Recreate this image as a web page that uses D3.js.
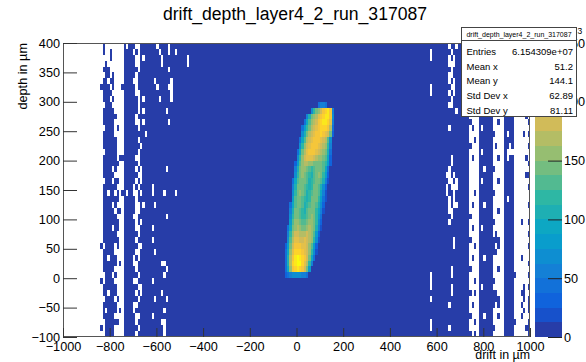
<!DOCTYPE html>
<html>
<head>
<meta charset="utf-8">
<script src="https://cdn.jsdelivr.net/npm/d3@7"></script>
<style>
  html, body { margin: 0; padding: 0; background: #ffffff; }
  svg { display: block; font-family: "Liberation Sans", Arial, Helvetica, sans-serif; }
</style>
</head>
<body>
<svg id="chart" width="586" height="362"></svg>
<script>
// ---------------- histogram description ----------------
const histTitle = "drift_depth_layer4_2_run_317087";
const xTitle = "drift in µm";
const yTitle = "depth in µm";

const xRange = [-1000, 1000];   // drift, µm
const yRange = [-100, 400];     // depth, µm
const zRange = [0, 250];        // bin content, in units of 10^3
const binSize = 10;             // µm, both directions
const nLevels = 20;             // colour contours

const xTickValues = [-1000, -800, -600, -400, -200, 0, 200, 400, 600, 800, 1000];
const yTickValues = [-100, -50, 0, 50, 100, 150, 200, 250, 300, 350, 400];
const zTickValues = [0, 50, 100, 150, 200, 250];

const statNames  = ["Entries", "Mean x", "Mean y", "Std Dev x", "Std Dev y"];
const statValues = ["6.154309e+07", "51.2", "144.1", "62.89", "81.11"];

// Occupied bins ('#') vs empty bins ('.') in the outer drift regions,
// one string per 10 µm depth row, from depth 400 down to -100.
const leftBandX0 = -840;
const leftBandRows = [
  ".#........ #.###..### ####.####. ##########",
  ".#..#..... ####.#.### #####.###. ##.#######",
  "....#..... #####..#.# ######.### #######.##",
  "..#....... #####..### ######.### #######.##",
  ".###...... ######.### #########. ##########",
  "..##.#.... #####.#### ########## ##########",
  ".##.##.... ####..#### ###.###### .#########",
  "####.#...# #####.#### ####.####. .#########",
  ".####..... #####..### ########## .#########",
  ".###.#.... ######.#.# #####.#### .#########",
  "..###..... ######.### ########## ##########",
  ".#####.... ######.#.# ########.# ##########",
  ".######... #####.#### ########## ##########",
  ".#####.... #####..#.# #########. ##########",
  "..####.#.. ######.### ########## ##########",
  ".#####.... #########. ########## ##########",
  ".######... ######.### ########## ##########",
  ".######... #######.## ########## ##########",
  "..#####... ######.### ########## ##########",
  ".######.## #####..### ########## ##########",
  ".#######.. ######.### ########## ##########",
  ".####.#... #####.#.## ########.# ##########",
  ".#####.... ######..## ########## ##########",
  "..###.##.. #####.#.## ########## ##########",
  ".######... ####.#.### ##.####### ##########",
  ".##.##.#.# #.##..#.## ##.####.## ##.#######",
  ".#######.. #####.#### ########## ##########",
  ".####.#... #####..#.# ###.###### ##########",
  ".#####.##. #####..### ########## ##########",
  ".######... ####..#### ########.# ##########",
  ".#######.. #####.#.## ########## ##########",
  ".####.##.. #####..### ##.####### ##########",
  ".######... ######.### ########## ##########",
  ".#######.. #####.#### ##.####### ##########",
  "#.####.#.. ######..## ########## ##########",
  ".#####.... #####..### ###.###### ##########",
  ".##.###... ####.#.### ########## ##########",
  ".######.#. ####..#### ######..## ##########",
  ".#####.... #####.#### ########.# ##########",
  "..###.#... ######.### #######.## ##########",
  "#.####.... ####..#### ##.####### ##########",
  ".######... ######..## ########## ##########",
  ".##.###... #####.#.## ######.### ##########",
  "..####.#.. ######.### ###.####.# ##########",
  ".######... ####..#### ########## ##########",
  ".#.####.#. ####.##### #######.## ##########",
  ".#####.... #####..### ##.####### ##########",
  "..######.. #####.#### ######..## ##########",
  "#.####.... ######.### #######.## ##########",
  "..####.... #####.#### #######.## ##########"
];

// every bin between the two outer regions is occupied
const coreSpan = [-440, 540];

const rightBandX0 = 540;
const rightBandRows = [
  "########## #.##.##### #..####### #.#..####. ....#.",
  "###.###### ##.####### ...####### #....####. ...##.",
  "###.###### #.#.###### ..#.##.### #...#####. ......",
  "########## #...###### .#..###### ..#..####. .....#",
  "########## ##.####### ....###### .....####. ..#..#",
  "########## #..####### #...###### #....###.. ......",
  "########## #.#.###### ....#.#### .#...####. .....#",
  "###.###### ##..###### .#..###### .....####. ......",
  "###.###### #.#.###### ..#.###### #....####. ...#.#",
  "########## ##.####### ....##.### ..#..####. ......",
  "########## #..####### #...###### .....####. .....#",
  "########## ####.##### .#..###### #....#.##. ......",
  "########## ########## ....###### .....####. ....#.",
  "########## ########## #...###### ..#..####. .....#",
  "########## #.######## .#..#.#### .....####. ......",
  "########## ########## ....###### #....#.##. ...#.#",
  "########## ########## ..#.###### .....####. ......",
  "########## ########## #...###### .#...##.#. .....#",
  "########## ########## ....#.#### .....#.... ......",
  "########## ##.####### .#..###### ..#..#.##. ....#.",
  "########## ##.####### ....###### .....####. .....#",
  "########## #.######## ....##.### #....####. ......",
  "########## ..#.###### ....###### .....####. ....##",
  "########## #..#.##### ....#.#### ..#..####. ......",
  "########## .#...##### ....###### .....####. .....#",
  "########## .##.###### ..#.###### #....####. ......",
  "########## #.#.###### ....###### .....#.##. ......",
  "########## #.#..##### .#..##.### .....####. .....#",
  "########## #..####### ....###### ..#..####. ......",
  "########## ##.####### #...###### .....####. ......",
  "########## #.######## ....###### #....####. ..#..#",
  "########## ########## .#..#.#### .....####. ......",
  "########## ########## ....###### .#...####. .....#",
  "########## ###.###### #...###### ###..####. ......",
  "########## ###.###### ..#.###### #.#..####. .....#",
  "########## ########## ....###### ##...####. ......",
  "########## ########## .#..##.### .....####. ..#...",
  "########## ########## ....###### .....####. .....#",
  "########## ##.####### #...###### ..#..####. ......",
  "###.###### ##.####### ....###### .....##### .....#",
  "###.###### ########## ..#.###### #....####. ......",
  "###.###### ##.####### ....#.#### .....####. ...#.#",
  "########## ##.####### #.#.###### ##...####. ..##..",
  "###.###### ########## ....###### ###..####. ...#.#",
  "########## #.######## .#..###### #.#..####. ..#..#",
  "########## ########## ....###### .....####. ...#.#",
  "########## ########## #...##.### ..#..####. ..#...",
  "###.###### ########## ..#.###### .....##### .....#",
  "###.###### #.######## ....###### #....####. ....##",
  "########## ########## #.#.###### .....####. .....#"
];

// Central high-occupancy region: contour level per bin (0-9, a-j = 10-19),
// '.' = no change. Rows from depth 300 down to 0, columns from drift -50.
const blobX0 = -50;
const blobTop = 300;
const blobRows = [
  "..............3443...",
  "...........59bceghig4",
  ".........48bcdfghiig5",
  "........37acdeghiihf4",
  ".......369bdefghhhgd3",
  ".......58bdefgghgfeb2",
  "......37adefgggfeda5.",
  "......59cefgggfedc94.",
  ".....37bdfgggfedcb83.",
  ".....59cefffedccba72.",
  "....26acddccbbbba962.",
  "....48bccba9abbba73..",
  "....59bcba98abcb962..",
  "...37abbba89abba841..",
  "...48bbba989bba852...",
  "...59bcba89abba741...",
  "...6abba989bbb9631...",
  "..37abba89abba852....",
  "..48bba98abbb9741....",
  "..59bba99abcb963.....",
  "..6accbaabccb952.....",
  ".37bcdcbbcdcb841.....",
  ".49ceedddedca62......",
  ".5adffeefedc951......",
  "26begggffeca62.......",
  "37cfhhhgfec951.......",
  "38dgijihgeb73........",
  "38dhijjhfd94.........",
  "37cghihgeb6..........",
  "2345555443..........."
];

// ROOT "bird" palette stops
const birdStops = [0.0000, 0.1250, 0.2500, 0.3750, 0.5000, 0.6250, 0.7500, 0.8750, 1.0000];
const birdRed   = [0.2082, 0.0592, 0.0780, 0.0232, 0.1802, 0.5301, 0.8186, 0.9956, 0.9764];
const birdGreen = [0.1664, 0.3599, 0.5041, 0.6419, 0.7178, 0.7492, 0.7328, 0.7862, 0.9832];
const birdBlue  = [0.5293, 0.8684, 0.8385, 0.7914, 0.6425, 0.4662, 0.3499, 0.1968, 0.0539];

// ---------------- build bins ----------------
const levelWidth = (zRange[1] - zRange[0]) / nLevels;
const contentOfLevel = lv => zRange[0] + (lv + 0.5) * levelWidth;
const nRows = (yRange[1] - yRange[0]) / binSize;

const bins = new Map();
const key = (x, y) => x + "," + y;
function setBin(x, y, z) { bins.set(key(x, y), { x, y, z }); }

for (let r = 0; r < nRows; r++) {
  const yLow = yRange[1] - (r + 1) * binSize;
  const left = leftBandRows[r].replace(/ /g, "");
  for (let i = 0; i < left.length; i++) {
    if (left[i] === "#") setBin(leftBandX0 + i * binSize, yLow, contentOfLevel(0));
  }
  for (let x = coreSpan[0]; x < coreSpan[1]; x += binSize) setBin(x, yLow, contentOfLevel(0));
  const right = rightBandRows[r].replace(/ /g, "");
  for (let i = 0; i < right.length; i++) {
    if (right[i] === "#") setBin(rightBandX0 + i * binSize, yLow, contentOfLevel(0));
  }
}
blobRows.forEach((row, r) => {
  const yLow = blobTop - (r + 1) * binSize;
  for (let i = 0; i < row.length; i++) {
    if (row[i] !== ".") setBin(blobX0 + i * binSize, yLow, contentOfLevel(parseInt(row[i], 20)));
  }
});
const binList = Array.from(bins.values());

// ---------------- scales ----------------
const W = 586, H = 362;
const frame = { left: 63, right: 530, top: 43, bottom: 337 };
const bar = { left: 535, right: 562 };

const x = d3.scaleLinear().domain(xRange).range([frame.left, frame.right]);
const y = d3.scaleLinear().domain(yRange).range([frame.bottom, frame.top]);
const zAxisScale = d3.scaleLinear().domain(zRange).range([frame.bottom, frame.top]);

const bird = d3.scaleLinear()
  .domain(birdStops)
  .range(birdStops.map((s, i) => d3.rgb(birdRed[i] * 255, birdGreen[i] * 255, birdBlue[i] * 255)))
  .interpolate(d3.interpolateRgb);
const nColors = 255;
const levelColors = d3.range(nLevels).map(i => {
  const idx = Math.floor((i + 0.99) * nColors / nLevels);
  return bird(Math.min(idx, nColors - 1) / (nColors - 1));
});
const color = d3.scaleQuantize().domain(zRange).range(levelColors);

// ---------------- drawing ----------------
const svg = d3.select("#chart");
svg.append("rect").attr("width", W).attr("height", H).attr("fill", "#ffffff");

// bins
svg.append("g").attr("shape-rendering", "crispEdges")
  .selectAll("rect").data(binList).join("rect")
  .attr("x", d => x(d.x))
  .attr("y", d => y(d.y + binSize))
  .attr("width", d => x(d.x + binSize) - x(d.x))
  .attr("height", d => y(d.y) - y(d.y + binSize))
  .attr("fill", d => color(d.z));

// frame
svg.append("rect")
  .attr("x", frame.left + 0.5).attr("y", frame.top + 0.5)
  .attr("width", frame.right - frame.left - 1).attr("height", frame.bottom - frame.top - 1)
  .attr("fill", "none").attr("stroke", "#555").attr("stroke-width", 1);

const labelFont = 12.7;
const fmt = d3.format("");

// x axis (ticks pointing into the frame)
const xMinor = d3.range(xRange[0], xRange[1] + 1, 40).filter(v => !xTickValues.includes(v));
const gx = svg.append("g").attr("transform", `translate(0,${frame.bottom})`);
gx.call(d3.axisBottom(x).tickValues(xMinor).tickSize(-4.5).tickFormat(""));
gx.call(d3.axisBottom(x).tickValues(xTickValues).tickSize(-9).tickPadding(4.5).tickFormat(fmt));
gx.select(".domain").remove();
gx.selectAll("line").attr("stroke", "#333");
gx.selectAll("text").attr("font-size", labelFont).attr("fill", "#000")
  .attr("font-family", "Liberation Sans, Arial, sans-serif");

// y axis
const yMinor = d3.range(yRange[0], yRange[1] + 1, 10).filter(v => !yTickValues.includes(v));
const gy = svg.append("g").attr("transform", `translate(${frame.left},0)`);
gy.call(d3.axisLeft(y).tickValues(yMinor).tickSize(-7).tickFormat(""));
gy.call(d3.axisLeft(y).tickValues(yTickValues).tickSize(-14).tickPadding(3).tickFormat(fmt));
gy.select(".domain").remove();
gy.selectAll("line").attr("stroke", "#333");
gy.selectAll("text").attr("font-size", labelFont).attr("fill", "#000")
  .attr("font-family", "Liberation Sans, Arial, sans-serif");

// axis titles
svg.append("text")
  .attr("x", frame.right).attr("y", 359)
  .attr("text-anchor", "end").attr("font-size", 12.4)
  .text(xTitle);
svg.append("text")
  .attr("transform", `translate(27,${frame.top}) rotate(-90)`)
  .attr("text-anchor", "end").attr("font-size", labelFont)
  .text(yTitle);

// colour bar
svg.append("g").attr("shape-rendering", "crispEdges")
  .selectAll("rect").data(d3.range(nLevels)).join("rect")
  .attr("x", bar.left)
  .attr("y", i => zAxisScale(zRange[0] + (i + 1) * levelWidth))
  .attr("width", bar.right - bar.left)
  .attr("height", i => zAxisScale(zRange[0] + i * levelWidth) - zAxisScale(zRange[0] + (i + 1) * levelWidth))
  .attr("fill", i => levelColors[i]);

const gz = svg.append("g").attr("transform", `translate(${bar.right},0)`);
gz.call(d3.axisRight(zAxisScale).tickValues(zTickValues).tickSize(-14).tickPadding(2).tickFormat(fmt));
gz.select(".domain").remove();
gz.selectAll("line").attr("stroke", "#222");
gz.selectAll("text").attr("font-size", labelFont).attr("fill", "#000")
  .attr("font-family", "Liberation Sans, Arial, sans-serif");

// exponent of the colour axis
svg.append("text").attr("x", 577).attr("y", 38).attr("text-anchor", "end")
  .attr("font-size", labelFont).text("×10");
svg.append("text").attr("x", 577.5).attr("y", 34).attr("font-size", 8.5).text("3");

// statistics box
const box = { left: 461.5, right: 576.5, top: 27.5, bottom: 116.5, sep: 40.5 };
svg.append("rect")
  .attr("x", box.left).attr("y", box.top)
  .attr("width", box.right - box.left).attr("height", box.bottom - box.top)
  .attr("fill", "#ffffff").attr("stroke", "#444").attr("stroke-width", 1);
svg.append("line")
  .attr("x1", box.left).attr("x2", box.right).attr("y1", box.sep).attr("y2", box.sep)
  .attr("stroke", "#444");
svg.append("text")
  .attr("x", (box.left + box.right) / 2).attr("y", 36.5)
  .attr("text-anchor", "middle").attr("font-size", 7)
  .text(histTitle);
const rowY = d3.scaleLinear().domain([0, statNames.length - 1]).range([55, 113.5]);
statNames.forEach((name, i) => {
  svg.append("text").attr("x", 466.5).attr("y", rowY(i)).attr("font-size", 9.5).text(name);
  svg.append("text").attr("x", 573).attr("y", rowY(i)).attr("text-anchor", "end")
    .attr("font-size", 9.5).text(statValues[i]);
});

// title
svg.append("text")
  .attr("x", 295).attr("y", 19.5)
  .attr("text-anchor", "middle").attr("font-size", 17.6)
  .text(histTitle);
</script>
</body>
</html>
